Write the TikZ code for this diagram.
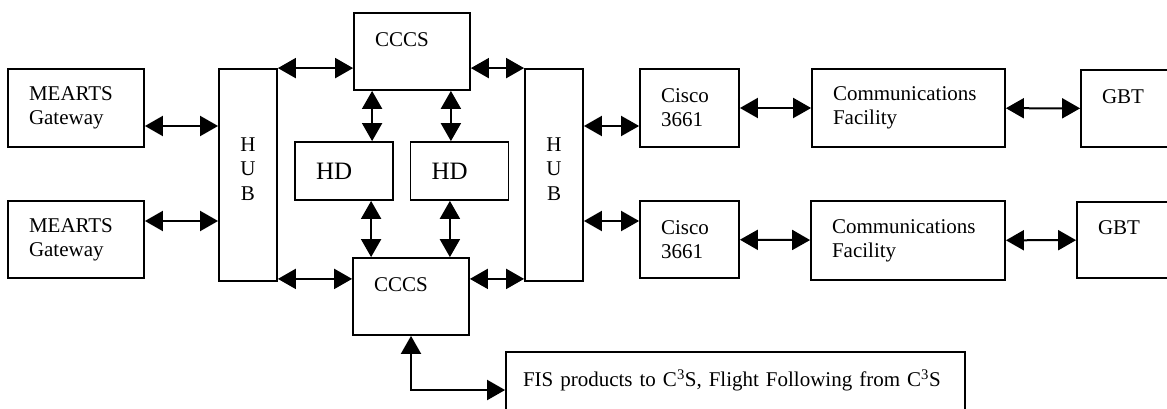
\documentclass[tikz,border=0pt]{standalone}
\usepackage{fontspec}
\setmainfont{Liberation Serif}
\usepackage{tikz}
\usetikzlibrary{arrows.meta,positioning,calc}

\begin{document}
\begin{tikzpicture}[x=1pt, y=-1pt,
  box/.style={draw=black, line width=1.8pt, inner xsep=21pt, inner ysep=0pt,
    align=left, font=\fontsize{21}{24}\selectfont},
  hubbox/.style={draw=black, line width=1.8pt, minimum width=58pt, minimum height=212pt,
    inner sep=0pt, text depth=12pt, align=center, font=\fontsize{21}{24.5}\selectfont},
  hdbox/.style={box, font=\fontsize{25}{28}\selectfont, text width=56pt, minimum height=58pt},
  arr/.style={{Triangle[length=18pt,width=20pt]}-{Triangle[length=18pt,width=20pt]}, line width=2pt}
]
  \useasboundingbox (0,0) rectangle (1167,409);

  \node[box, text width=94pt, minimum height=78pt] (mg1) at (76,108) {MEARTS\\Gateway};
  \node[box, text width=94pt, minimum height=77pt] (mg2) at (76,239.5) {MEARTS\\Gateway};

  \node[hubbox] (hubL) at (248,175) {H\\U\\B};
  \node[hubbox] (hubR) at (554,175) {H\\U\\B};

  \node[box, text width=74pt, minimum height=77pt] (ccT) at (412,51.5) {CCCS\\~};
  \node[box, text width=74pt, minimum height=77pt] (ccB) at (411,296.5) {CCCS\\~};

  \node[hdbox] (hd1) at (344,171) {HD};
  \node[hdbox] (hd2) at (459.5,171) {HD};

  \node[box, text width=57pt, minimum height=78pt] (cis1) at (689.5,108) {Cisco\\3661};
  \node[box, text width=57pt, minimum height=77pt] (cis2) at (689.5,239.5) {Cisco\\3661};

  \node[box, text width=151pt, minimum height=78pt] (cf1) at (908.5,108) {Communications\\Facility};
  \node[box, text width=152pt, minimum height=79pt] (cf2) at (908,240.5) {Communications\\Facility};

  \node[box, text width=94pt, minimum height=77pt] (gbt1) at (1149,108.5) {GBT\\~};
  \node[box, text width=94pt, minimum height=76pt] (gbt2) at (1145,240) {GBT\\~};

  \node[box, inner xsep=17pt, text width=425pt, minimum height=76pt] (fis) at (735.5,390)
    {FIS products to C\textsuperscript{3}S, Flight Following from C\textsuperscript{3}S\\~};

  % gateways and hubs
  \draw[arr] ([yshift=-18pt]mg1.east) -- ([yshift=-18pt]mg1.east -| hubL.west);
  \draw[arr] ([yshift=18.5pt]mg2.east) -- ([yshift=18.5pt]mg2.east -| hubL.west);
  \draw[arr] (hubL.north east) -- (hubL.north east -| ccT.west);
  \draw[arr] ([yshift=3pt]hubL.south east) -- ([yshift=3pt]hubL.south east -| ccB.west);
  \draw[arr] (hubR.north west -| ccT.east) -- (hubR.north west);
  \draw[arr] ([yshift=3pt]hubR.south west -| ccB.east) -- ([yshift=3pt]hubR.south west);

  % CCCS and HD
  \draw[arr] ([xshift=19pt]ccT.south west) -- ([xshift=19pt]ccT.south west |- hd1.north);
  \draw[arr] ([xshift=19pt]ccB.north west |- hd1.south) -- ([xshift=19pt]ccB.north west);
  \draw[arr] ([xshift=-20pt]ccT.south east) -- ([xshift=-20pt]ccT.south east |- hd2.north);
  \draw[arr] ([xshift=-20pt]ccB.north east |- hd2.south) -- ([xshift=-20pt]ccB.north east);

  % right side chains
  \draw[arr] ([yshift=-18pt]cis1.west -| hubR.east) -- ([yshift=-18pt]cis1.west);
  \draw[arr] ([yshift=18.5pt]cis2.west -| hubR.east) -- ([yshift=18.5pt]cis2.west);
  \draw[arr] (cis1) -- (cf1);
  \draw[arr] (cis2) -- (cf2);
  \draw[arr] (cf1) -- (gbt1);
  \draw[arr] (cf2) -- (gbt2);

  \draw[arr] (ccB.south) |- (fis.west);
\end{tikzpicture}
\end{document}
